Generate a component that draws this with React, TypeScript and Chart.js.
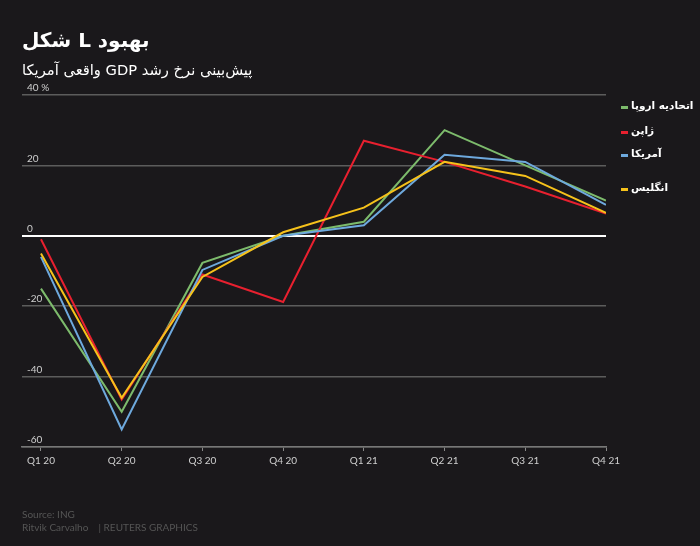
import React, { useEffect, useRef } from "react";
import { Chart, registerables } from "chart.js";

Chart.register(...registerables);

const categories = ["Q1 20", "Q2 20", "Q3 20", "Q4 20", "Q1 21", "Q2 21", "Q3 21", "Q4 21"];
const euValues = [-15, -50, -7.7, 0, 4, 30, 20, 10];
const japanValues = [-1, -46.5, -11, -18.8, 27, 21, 14, 6.3];
const usValues = [-6, -55, -9.7, 0, 3, 23, 21, 8.8];
const ukValues = [-5, -46, -11.7, 1, 8, 21, 17, 6.5];
const yTicks = [-60, -40, -20, 0, 20, 40];

const seriesNames = ["اتحادیه اروپا", "ژاپن", "آمریکا", "انگلیس"];
const seriesColors = ["#7dbb6c", "#e8202f", "#6ea9dd", "#f6c21b"];
const seriesValues = [euValues, japanValues, usValues, ukValues];
const legendTops = [105, 130, 153, 187];

const BG = "#1a181b";
const TICK_FONT = "Lato, 'Noto Sans', sans-serif";
const AR_FONT = "'DejaVu Sans', sans-serif";

export default function App() {
  const canvasRef = useRef<HTMLCanvasElement | null>(null);

  useEffect(() => {
    const canvas = canvasRef.current;
    if (!canvas) return;
    const chart = new Chart(canvas, {
      type: "line",
      data: {
        datasets: seriesValues.map((vals, i) => ({
          label: seriesNames[i],
          data: vals.map((v, j) => ({ x: j, y: v })),
          borderColor: seriesColors[i],
          backgroundColor: seriesColors[i],
          borderWidth: 2,
          pointRadius: 0,
          tension: 0,
          order: 3 - i,
        })),
      },
      options: {
        animation: false,
        responsive: false,
        maintainAspectRatio: false,
        layout: { padding: { left: 22, right: 94, top: 95, bottom: 79 } },
        plugins: { legend: { display: false }, tooltip: { enabled: false } },
        scales: {
          x: {
            type: "linear",
            min: -0.235,
            max: categories.length - 1,
            afterBuildTicks: (axis: any) => {
              axis.ticks = categories.map((_, i) => ({ value: i }));
            },
            afterFit: (scale: any) => {
              scale.height = 20;
            },
            grid: {
              drawOnChartArea: false,
              drawTicks: true,
              tickLength: 4,
              color: "#888",
              lineWidth: 1,
            },
            border: { display: true, color: "#777", width: 1.5 },
            ticks: {
              autoSkip: false,
              maxRotation: 0,
              padding: 4,
              color: "#cfcfcf",
              font: { family: TICK_FONT, size: 10 },
              callback: (v: any) => categories[Number(v)] ?? "",
            },
          },
          y: {
            min: -60,
            max: 40,
            afterBuildTicks: (axis: any) => {
              axis.ticks = yTicks.map((v) => ({ value: v }));
            },
            afterFit: (scale: any) => {
              scale.width = 0;
            },
            grid: {
              drawTicks: false,
              color: (ctx: any) => (ctx.tick && ctx.tick.value === 0 ? "#ffffff" : "#5c5c5c"),
              lineWidth: (ctx: any) => (ctx.tick && ctx.tick.value === 0 ? 2 : 1.5),
            },
            border: { display: false },
            ticks: {
              mirror: true,
              padding: 5,
              labelOffset: -7,
              color: "#cfcfcf",
              font: { family: TICK_FONT, size: 10 },
              callback: (v: any) => (Number(v) === 40 ? "40 %" : String(v)),
            },
          },
        },
      },
    });
    return () => chart.destroy();
  }, []);

  return (
    <div
      style={{
        position: "absolute",
        left: 0,
        top: 0,
        width: 700,
        height: 546,
        background: BG,
        overflow: "hidden",
      }}
    >
      <canvas
        ref={canvasRef}
        width={700}
        height={546}
        style={{ position: "absolute", left: 0, top: 0, width: 700, height: 546 }}
      />
      <div
        dir="rtl"
        style={{
          position: "absolute",
          left: 22,
          top: 26,
          color: "#ffffff",
          fontFamily: AR_FONT,
          fontWeight: "bold",
          fontSize: 20,
          lineHeight: "28px",
          whiteSpace: "nowrap",
        }}
      >
        بهبود L شکل
      </div>
      <div
        dir="rtl"
        style={{
          position: "absolute",
          left: 22,
          top: 60,
          color: "#ffffff",
          fontFamily: AR_FONT,
          fontSize: 14.7,
          lineHeight: "20px",
          whiteSpace: "nowrap",
        }}
      >
        پیش‌بینی نرخ رشد GDP واقعی آمریکا
      </div>
      {seriesNames.map((name, i) => (
        <div
          key={name}
          style={{
            position: "absolute",
            left: 621,
            top: legendTops[i] - 9,
            height: 18,
            display: "flex",
            alignItems: "center",
            whiteSpace: "nowrap",
          }}
        >
          <span
            style={{
              display: "inline-block",
              width: 7,
              height: 3,
              marginTop: 5,
              background: seriesColors[i],
              marginRight: 3,
            }}
          />
          <span
            dir="rtl"
            style={{
              color: "#ffffff",
              fontFamily: AR_FONT,
              fontWeight: "bold",
              fontSize: 10.5,
            }}
          >
            {name}
          </span>
        </div>
      ))}
      <div
        style={{
          position: "absolute",
          left: 22,
          top: 508,
          color: "#555555",
          fontFamily: TICK_FONT,
          fontSize: 10,
          lineHeight: "13px",
          whiteSpace: "nowrap",
        }}
      >
        <div>Source: ING</div>
        <div>
          Ritvik Carvalho&nbsp;&nbsp;&nbsp;&nbsp;| REUTERS GRAPHICS
        </div>
      </div>
    </div>
  );
}
